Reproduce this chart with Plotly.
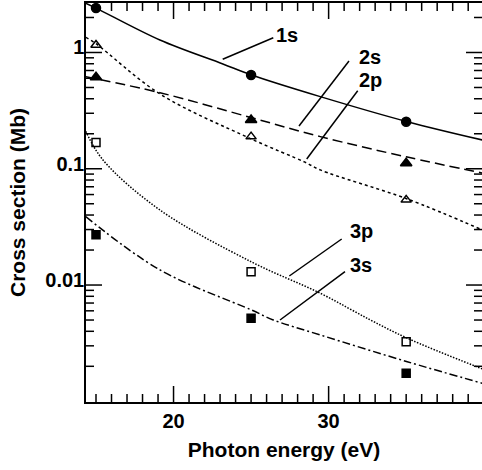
import math
import plotly.graph_objects as go

# ---- data ----
energy_pts = [15, 25, 35]
s1_pts = [2.41, 0.64, 0.254]
s2_pts = [0.612, 0.263, 0.1115]
p2_pts = [1.16, 0.189, 0.054]
p3_pts = [0.168, 0.01303, 0.00326]
s3_pts = [0.027, 0.00518, 0.00174]

s1_x = [14.34, 15.0, 19.12, 23.18, 25.03, 29.46, 35.07, 39.9]
s1_y = [2.65, 2.41, 1.28, 0.797, 0.64, 0.417, 0.254, 0.177]
s2_x = [14.34, 19.12, 25.03, 29.46, 35.07, 39.9]
s2_y = [0.619, 0.451, 0.275, 0.189, 0.126, 0.092]
p2_x = [14.34, 15.0, 19.12, 25.03, 28.47, 29.46, 35.07, 39.9]
p2_y = [1.35, 1.19, 0.44, 0.180, 0.114, 0.0977, 0.055, 0.0298]
p3_x = [14.34, 15.45, 19.12, 25.03, 29.46, 32.7, 35.07, 39.9]
p3_y = [0.21, 0.119, 0.0442, 0.0158, 0.0085, 0.0050, 0.00349, 0.00190]
s3_x = [14.34, 19.12, 25.03, 26.43, 29.46, 35.07, 39.9]
s3_y = [0.0387, 0.0135, 0.0061, 0.00501, 0.00372, 0.00219, 0.00143]

x_ticks = [20, 30]
y_ticks = [0.01, 0.1, 1]
y_ticktext = ["0.01", "0.1", "1"]
x_minor = [v for v in range(15, 40) if v % 10 != 0]
y_minor = [d * 10.0 ** k for k in range(-3, 1) for d in range(2, 10)]

FONT = "Liberation Sans, Arial, sans-serif"
fig = go.Figure()

L, R, T, B = 86, 482, 3, 402
W, H = 482, 470
PW, PH = R - L, B - T
XR = [14.355, 39.89]
YR = [-3.006, 0.4256]

# tick marks (inside the frame, all four sides) drawn as line segments
def y_at(frac):
    return 10 ** (YR[0] + frac * (YR[1] - YR[0]))
def x_at(frac):
    return XR[0] + frac * (XR[1] - XR[0])

tx, ty = [], []
for v in x_ticks + x_minor:
    ln = (16 if v in x_ticks else 8) / PH
    tx += [v, v, None, v, v, None]
    ty += [y_at(0), y_at(ln), None, y_at(1), y_at(1 - ln), None]
for v in y_ticks + y_minor:
    f = (math.log10(v) - YR[0]) / (YR[1] - YR[0])
    if not (0 <= f <= 1):
        continue
    ln = (16 if v in y_ticks else 8) / PW
    tx += [x_at(0), x_at(ln), None, x_at(1), x_at(1 - ln), None]
    ty += [v, v, None, v, v, None]
fig.add_trace(go.Scatter(x=tx, y=ty, mode="lines", line=dict(color="black", width=1.5),
                         showlegend=False, hoverinfo="skip", connectgaps=False))

curves = [
    (s1_x, s1_y, "solid"),
    (s2_x, s2_y, "10px,5px"),
    (p2_x, p2_y, "3px,3px"),
    (p3_x, p3_y, "1.5px,1.5px"),
    (s3_x, s3_y, "8px,3px,2px,3px"),
]
for cx, cy, dash in curves:
    fig.add_trace(go.Scatter(x=cx, y=cy, mode="lines", line_shape="spline",
                             line=dict(color="black", width=1.5, dash=dash),
                             showlegend=False, hoverinfo="skip"))

markers = [
    (s1_pts, "circle", 9, "black"),
    (s2_pts, "triangle-up", 10, "black"),
    (p2_pts, "triangle-up-open", 9, "black"),
    (p3_pts, "square-open", 8, "black"),
    (s3_pts, "square", 8, "black"),
]
for vals, sym, size, col in markers:
    fig.add_trace(go.Scatter(x=energy_pts, y=vals, mode="markers",
                             marker=dict(symbol=sym, size=size, color=col,
                                         line=dict(color="black", width=1.5)),
                             showlegend=False, cliponaxis=False))

def px(xp):
    return (xp - L) / PW
def py(yp):
    return (B - yp) / PH

labels = [
    ("1s", 286.5, 35, (222.7, 59.3, 273.3, 37.7)),
    ("2s", 370, 57, (299, 126, 349, 61)),
    ("2p", 370, 80, (306.7, 159, 357.7, 90.7)),
    ("3p", 361, 231, (289.3, 276, 341.7, 239)),
    ("3s", 361, 264.5, (280, 320, 345, 271.7)),
]
for txt, ax_, ay_, (x0, y0, x1, y1) in labels:
    fig.add_annotation(text=txt, xref="paper", yref="paper", x=px(ax_), y=py(ay_),
                       showarrow=False, xanchor="center", yanchor="middle",
                       font=dict(family=FONT, size=20, color="black", weight="bold"))
    fig.add_shape(type="line", xref="paper", yref="paper",
                  x0=px(x0), y0=py(y0), x1=px(x1), y1=py(y1),
                  line=dict(color="black", width=1.5))

axis_common = dict(showline=True, linecolor="black", linewidth=1.5, mirror=True,
                   ticks="", showgrid=False, zeroline=False, automargin=False,
                   tickfont=dict(family=FONT, size=20, color="black", weight="bold"))

fig.update_layout(
    width=W, height=H,
    margin=dict(l=L, r=W - R, t=T, b=H - B, autoexpand=False),
    plot_bgcolor="white", paper_bgcolor="white",
    xaxis=dict(range=XR, tickvals=x_ticks,
               title=dict(text="Photon energy (eV)", standoff=12,
                          font=dict(family=FONT, size=21, color="black", weight="bold")),
               **axis_common),
    yaxis=dict(type="log", range=YR, tickvals=y_ticks, ticktext=y_ticktext,
               ticklabelshift=-5, ticklabelstandoff=-4,
               title=dict(text="Cross section (Mb)", standoff=14,
                          font=dict(family=FONT, size=21, color="black", weight="bold")),
               **axis_common),
)

fig.write_html("out.html", config={"displayModeBar": False},
               post_script="document.body.style.margin='0';document.body.style.overflow='hidden';")
